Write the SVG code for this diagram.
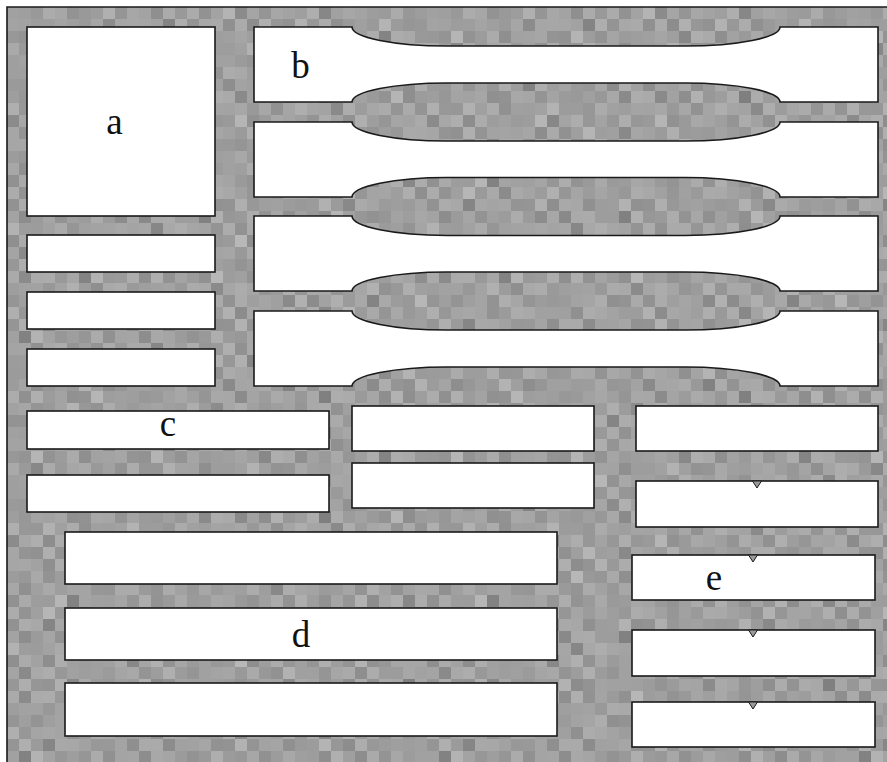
<svg xmlns="http://www.w3.org/2000/svg" width="887" height="762" viewBox="0 0 887 762">
<defs>
<pattern id="noiseA" x="7" y="7" width="84" height="84" patternUnits="userSpaceOnUse">
<rect width="84" height="84" fill="#a8a8a8"/>
<rect x="0" y="0" width="12" height="12" fill="#a0a0a0"/><rect x="12" y="0" width="12" height="12" fill="#b4b4b4"/><rect x="24" y="0" width="12" height="12" fill="#989898"/><rect x="36" y="0" width="12" height="12" fill="#acacac"/><rect x="48" y="0" width="12" height="12" fill="#bcbcbc"/><rect x="60" y="0" width="12" height="12" fill="#828282"/>
<rect x="0" y="12" width="12" height="12" fill="#b8b8b8"/><rect x="12" y="12" width="12" height="12" fill="#9a9a9a"/><rect x="24" y="12" width="12" height="12" fill="#a6a6a6"/><rect x="36" y="12" width="12" height="12" fill="#c0c0c0"/><rect x="48" y="12" width="12" height="12" fill="#a2a2a2"/><rect x="60" y="12" width="12" height="12" fill="#b0b0b0"/><rect x="72" y="12" width="12" height="12" fill="#8a8a8a"/>
<rect x="0" y="24" width="12" height="12" fill="#949494"/><rect x="12" y="24" width="12" height="12" fill="#aeaeae"/><rect x="24" y="24" width="12" height="12" fill="#bcbcbc"/><rect x="36" y="24" width="12" height="12" fill="#8c8c8c"/><rect x="60" y="24" width="12" height="12" fill="#bababa"/><rect x="72" y="24" width="12" height="12" fill="#a2a2a2"/>
<rect x="0" y="36" width="12" height="12" fill="#aaaaaa"/><rect x="12" y="36" width="12" height="12" fill="#9e9e9e"/><rect x="24" y="36" width="12" height="12" fill="#868686"/><rect x="36" y="36" width="12" height="12" fill="#b2b2b2"/><rect x="48" y="36" width="12" height="12" fill="#969696"/><rect x="60" y="36" width="12" height="12" fill="#a4a4a4"/><rect x="72" y="36" width="12" height="12" fill="#bebebe"/>
<rect x="0" y="48" width="12" height="12" fill="#bebebe"/><rect x="12" y="48" width="12" height="12" fill="#a4a4a4"/><rect x="24" y="48" width="12" height="12" fill="#b0b0b0"/><rect x="36" y="48" width="12" height="12" fill="#a0a0a0"/><rect x="48" y="48" width="12" height="12" fill="#b6b6b6"/><rect x="60" y="48" width="12" height="12" fill="#848484"/><rect x="72" y="48" width="12" height="12" fill="#acacac"/>
<rect x="0" y="60" width="12" height="12" fill="#9c9c9c"/><rect x="12" y="60" width="12" height="12" fill="#b6b6b6"/><rect x="24" y="60" width="12" height="12" fill="#a2a2a2"/><rect x="36" y="60" width="12" height="12" fill="#8e8e8e"/><rect x="48" y="60" width="12" height="12" fill="#aaaaaa"/><rect x="60" y="60" width="12" height="12" fill="#c0c0c0"/><rect x="72" y="60" width="12" height="12" fill="#9a9a9a"/>
<rect x="0" y="72" width="12" height="12" fill="#a6a6a6"/><rect x="12" y="72" width="12" height="12" fill="#888888"/><rect x="24" y="72" width="12" height="12" fill="#b8b8b8"/><rect x="36" y="72" width="12" height="12" fill="#aeaeae"/><rect x="48" y="72" width="12" height="12" fill="#9e9e9e"/><rect x="60" y="72" width="12" height="12" fill="#a0a0a0"/><rect x="72" y="72" width="12" height="12" fill="#b2b2b2"/>
</pattern>
<pattern id="noiseB" x="7" y="7" width="60" height="60" patternUnits="userSpaceOnUse">
<rect x="0" y="0" width="12" height="12" fill="#b0b0b0"/><rect x="12" y="0" width="12" height="12" fill="#989898"/><rect x="24" y="0" width="12" height="12" fill="#a8a8a8"/><rect x="36" y="0" width="12" height="12" fill="#bcbcbc"/><rect x="48" y="0" width="12" height="12" fill="#a0a0a0"/>
<rect x="0" y="12" width="12" height="12" fill="#9c9c9c"/><rect x="12" y="12" width="12" height="12" fill="#b8b8b8"/><rect x="24" y="12" width="12" height="12" fill="#a2a2a2"/><rect x="36" y="12" width="12" height="12" fill="#8a8a8a"/><rect x="48" y="12" width="12" height="12" fill="#b4b4b4"/>
<rect x="0" y="24" width="12" height="12" fill="#aaaaaa"/><rect x="12" y="24" width="12" height="12" fill="#888888"/><rect x="24" y="24" width="12" height="12" fill="#bebebe"/><rect x="36" y="24" width="12" height="12" fill="#a6a6a6"/><rect x="48" y="24" width="12" height="12" fill="#9e9e9e"/>
<rect x="0" y="36" width="12" height="12" fill="#b6b6b6"/><rect x="12" y="36" width="12" height="12" fill="#a4a4a4"/><rect x="24" y="36" width="12" height="12" fill="#969696"/><rect x="36" y="36" width="12" height="12" fill="#b2b2b2"/><rect x="48" y="36" width="12" height="12" fill="#acacac"/>
<rect x="0" y="48" width="12" height="12" fill="#8e8e8e"/><rect x="12" y="48" width="12" height="12" fill="#aeaeae"/><rect x="24" y="48" width="12" height="12" fill="#b0b0b0"/><rect x="36" y="48" width="12" height="12" fill="#9a9a9a"/><rect x="48" y="48" width="12" height="12" fill="#c0c0c0"/>
</pattern>
</defs>
<style>
.box{fill:#ffffff;stroke:#1a1a1a;stroke-width:1.6}
.lbl{font-size:37px;fill:#111111;text-anchor:middle}
.tri{fill:#9a9a9a;stroke:#1a1a1a;stroke-width:1}
.frame{stroke:#1a1a1a;stroke-width:1.6;fill:none}
</style>
<rect width="887" height="762" fill="#ffffff"/>
<g id="background">
<rect x="7" y="7" width="880" height="755" fill="url(#noiseA)"/>
<rect x="7" y="7" width="880" height="755" fill="url(#noiseB)" opacity="0.5"/>
<rect x="7" y="7" width="880" height="755" fill="#000000" opacity="0.04"/>
<path class="frame" d="M7,762 V7 H887"/>
</g>
<g id="a">
<rect class="box" x="27" y="27" width="188" height="189"/>
<text class="lbl" font-family="'Liberation Serif', 'Times New Roman', 'DejaVu Serif', serif" x="114.5" y="134">a</text>
</g>
<g id="left-boxes">
<rect class="box" x="27" y="235" width="188" height="37"/>
<rect class="box" x="27" y="292" width="188" height="37"/>
<rect class="box" x="27" y="349" width="188" height="37"/>
</g>
<g id="b">
<path class="box" d="M254,27 H352 A95,19 0 0 0 447,46 H685 A95,19 0 0 0 780,27 H878 V102 H780 A95,19 0 0 0 685,83 H447 A95,19 0 0 0 352,102 H254 Z"/>
<path class="box" d="M254,122 H352 A95,19 0 0 0 447,141 H685 A95,19 0 0 0 780,122 H878 V197 H780 A95,19.5 0 0 0 685,177.5 H447 A95,19.5 0 0 0 352,197 H254 Z"/>
<path class="box" d="M254,216 H352 A95,19.5 0 0 0 447,235.5 H685 A95,19.5 0 0 0 780,216 H878 V291 H780 A95,19 0 0 0 685,272 H447 A95,19 0 0 0 352,291 H254 Z"/>
<path class="box" d="M254,311 H352 A95,19 0 0 0 447,330 H685 A95,19 0 0 0 780,311 H878 V386 H780 A95,19 0 0 0 685,367 H447 A95,19 0 0 0 352,386 H254 Z"/>
<text class="lbl" font-family="'Liberation Serif', 'Times New Roman', 'DejaVu Serif', serif" x="300.5" y="78">b</text>
</g>
<g id="c">
<rect class="box" x="27" y="411" width="302" height="38"/>
<rect class="box" x="27" y="475" width="302" height="37"/>
<text class="lbl" font-family="'Liberation Serif', 'Times New Roman', 'DejaVu Serif', serif" x="168" y="436">c</text>
</g>
<g id="middle-boxes">
<rect class="box" x="352" y="406" width="242" height="45"/>
<rect class="box" x="352" y="463" width="242" height="45"/>
</g>
<g id="d">
<rect class="box" x="65" y="532" width="492" height="52"/>
<rect class="box" x="65" y="608" width="492" height="52"/>
<rect class="box" x="65" y="683" width="492" height="53"/>
<text class="lbl" font-family="'Liberation Serif', 'Times New Roman', 'DejaVu Serif', serif" x="301" y="647">d</text>
</g>
<g id="right-boxes">
<rect class="box" x="636" y="406" width="242" height="45"/>
<rect class="box" x="636" y="481" width="242" height="46"/>
</g>
<g id="e">
<rect class="box" x="632" y="555" width="243" height="45"/>
<rect class="box" x="632" y="630" width="243" height="46"/>
<rect class="box" x="632" y="702" width="243" height="45"/>
<text class="lbl" font-family="'Liberation Serif', 'Times New Roman', 'DejaVu Serif', serif" x="714" y="590">e</text>
</g>
<g id="connectors">
<polygon class="tri" points="752.5,481 761.5,481 757,488"/>
<polygon class="tri" points="748.5,555 757.5,555 753,562"/>
<polygon class="tri" points="748.5,630 757.5,630 753,637"/>
<polygon class="tri" points="748.5,702 757.5,702 753,709"/>
</g>
</svg>
